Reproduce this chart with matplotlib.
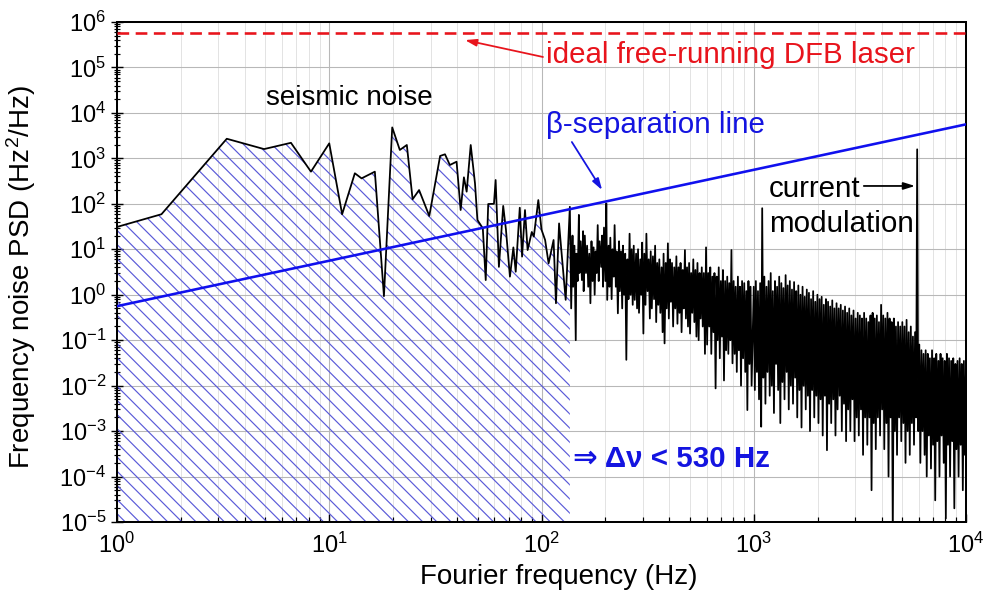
import numpy as np
import matplotlib.pyplot as plt
from matplotlib.ticker import LogLocator

# frequency noise PSD
freq = [
    1, 1.62, 3.29, 4.93, 6.6, 8.2, 10, 11.5, 13.2, 14.2,
    16.4, 18.1, 19.8, 21.5, 23.2, 24.7, 26.5, 29.6, 33.3, 35.1,
    37, 39.8, 41.6, 43.1, 44.4, 46.4, 48.6, 49.9, 52.9, 54.6,
    56.1, 59.7, 60.8, 63, 66, 68, 71, 73.7, 75.6, 79,
    81, 83.6, 86, 90, 92, 96.6, 100, 104, 108, 114,
    117, 121, 124, 130, 136,
    138, 140, 141, 143, 145, 146, 148, 150, 151, 153,
    155, 157, 158, 160, 162, 164, 166, 168, 170, 172,
    174, 176, 178, 180, 182, 184, 186, 188, 191, 193,
    195, 197, 200, 202, 204, 207, 209, 211, 214, 216,
    219, 221, 224, 226, 229, 232, 234, 237, 240, 242,
    245, 248, 251, 254, 257, 260, 263, 266, 269, 272,
    275, 279, 282, 285, 288, 292, 295, 298,
    302, 305, 309, 312, 316, 320, 324, 327, 331, 335,
    339, 343, 347, 351, 355, 359, 363, 368, 372, 376,
    380, 385, 389, 394, 398, 403, 407, 412, 417, 422,
    427, 432, 437, 442, 447, 452, 457, 463, 468, 474,
    479, 485, 490, 496, 501, 507, 513, 519, 525, 531,
    537, 543, 550, 556, 562, 569, 575, 582, 589, 596,
    603, 610, 617, 624, 631, 638, 646, 653, 661, 669,
    676, 684, 692, 700, 708, 716, 724, 733, 741, 750,
    759, 767, 776, 785, 794, 804, 813, 822, 832, 842,
    851, 861, 871, 881, 891, 902, 912, 923, 933, 944,
    955, 966, 977,
    1000, 1012, 1023, 1035, 1047, 1059, 1072, 1084, 1096, 1109,
    1122, 1135, 1148, 1161, 1175, 1189, 1202, 1216, 1230, 1245,
    1259, 1274, 1288, 1303, 1318, 1334, 1349, 1365, 1380, 1396,
    1413, 1429, 1445, 1462, 1479, 1496, 1514, 1531, 1549, 1567,
    1585, 1603, 1622, 1641, 1660, 1679, 1698, 1718, 1738, 1758,
    1778, 1799, 1820, 1841, 1862, 1884, 1905, 1928, 1950, 1972,
    1995, 2018, 2042, 2065, 2089, 2113, 2138, 2163, 2188, 2213,
    2239, 2265, 2291, 2317, 2344, 2371, 2399, 2427, 2455, 2483,
    2512, 2541, 2570, 2600, 2630, 2661, 2692, 2723, 2754, 2786,
    2818, 2851, 2884, 2917, 2951, 2985, 3020, 3055, 3090, 3126,
    3162, 3199, 3236, 3273, 3311, 3350, 3388, 3428, 3467, 3508,
    3548, 3589, 3631, 3673, 3715, 3758, 3802, 3846, 3890, 3936,
    3981, 4027, 4074, 4121, 4169, 4217, 4266, 4315, 4365, 4416,
    4467, 4519, 4571, 4624, 4677, 4732, 4786, 4842, 4898, 4955,
    5012, 5070, 5129, 5188, 5248, 5309, 5370, 5433, 5495, 5559,
    5623, 5689, 5754, 5821, 5888, 5957, 6026, 6095, 6166, 6237,
    6310, 6383, 6457, 6531, 6607, 6683, 6761, 6839, 6918, 6998,
    7079, 7161, 7244, 7328, 7413, 7499, 7586, 7674, 7762, 7852,
    7943, 8035, 8128, 8222, 8318, 8414, 8511, 8610, 8710, 8810,
    8913, 9016, 9120, 9226, 9333, 9441, 9550, 9661, 9772, 9886,
    10000,
]
psd = [
    31, 59, 2700, 1600, 2200, 510, 2140, 59, 470, 363,
    510, 0.93, 4800, 1530, 1970, 126, 201, 54, 1130, 1230,
    714, 845, 73, 383, 185, 1970, 283, 44, 29, 2.1,
    99, 100, 334, 4.1, 90, 27, 2.5, 11, 3.2, 82,
    6.9, 73, 9.6, 24, 19, 121, 27, 16, 4.9, 16,
    0.65, 37, 9.6, 0.77, 86,
    0.5, 20, 1.5, 12, 0.1, 8, 2, 57, 3, 15,
    2.1, 25, 1.2, 20, 3, 12, 1.5, 8, 0.65, 15,
    2, 11, 1, 9, 3, 34, 2, 15, 4.1, 20,
    1.5, 30, 2, 102, 0.77, 12, 1.5, 18, 0.8, 10,
    2.5, 34, 1.5, 9, 0.39, 15, 1.2, 9, 0.5, 12,
    1, 8, 0.037, 6, 0.8, 22, 1.0, 10, 0.6, 12,
    0.77, 8, 0.5, 10, 0.4, 6, 1, 14,
    0.14, 8, 0.6, 22, 1.2, 6, 0.3, 9, 0.5, 7,
    0.8, 12, 0.25, 5, 0.6, 6, 0.4, 4, 0.15, 8,
    0.085, 5, 0.5, 13.5, 0.3, 6, 0.7, 5, 0.2, 4,
    0.5, 7, 0.23, 4, 0.4, 5, 0.15, 3.5, 0.5, 9.6,
    0.3, 4, 0.2, 5, 0.14, 3, 0.4, 6, 0.25, 3.5,
    0.12, 5, 0.1, 3, 0.3, 4, 0.2, 3, 0.05, 11,
    0.08, 3, 0.2, 4, 0.05, 2.5, 0.15, 3, 0.0087, 2.5,
    0.1, 4, 0.04, 2, 0.12, 3.5, 0.013, 2, 0.06, 2.5,
    0.05, 1.8, 0.1, 9.6, 0.031, 2, 0.05, 1.5, 0.02, 2.5,
    0.06, 1.5, 0.01, 2, 0.04, 1.8, 0.02, 1.2, 0.0029, 2,
    0.03, 1.5, 0.01,
    1.5, 8e-3, 2, 2e-2, 1.2, 5e-3, 1.8, 1.25e-3, 80, 1.5e-2,
    2.5, 4e-3, 1.5, 2e-2, 2, 6e-3, 3, 1e-2, 1.2, 2.5e-3,
    2, 3e-2, 1.5, 8e-3, 2.5, 1.5e-3, 1.8, 1.2e-2, 1.4, 5e-3,
    2.7, 2e-2, 1.6, 3e-3, 2, 1e-2, 1.3, 4e-3, 1.9, 1.5e-2,
    1.2, 2e-3, 1.6, 8e-3, 1, 1.2e-3, 1.5, 1e-2, 0.9, 3e-3,
    1.3, 6e-3, 1.1, 1e-3, 0.8, 8e-3, 1.2, 2e-3, 0.7, 6e-3,
    1, 1.5e-3, 0.8, 5e-3, 0.9, 8e-4, 0.6, 6e-3, 0.8, 3.8e-4,
    0.7, 4e-3, 0.55, 1.5e-3, 0.75, 5e-3, 0.5, 8e-4, 0.65, 3e-3,
    0.5, 6e-3, 0.6, 1e-3, 0.45, 4e-3, 0.55, 6e-4, 0.4, 3e-3,
    0.5, 1e-3, 0.35, 5e-3, 0.45, 6e-4, 0.3, 2e-3, 0.4, 8e-4,
    0.35, 3e-3, 0.3, 3e-4, 0.4, 2e-3, 0.3, 5e-4, 0.25, 2e-3,
    0.35, 5e-5, 0.4, 1.5e-3, 0.3, 4e-4, 0.35, 2e-3, 0.25, 8e-4,
    0.6, 3e-3, 0.35, 4e-4, 0.3, 1.5e-3, 0.4, 1e-4, 0.3, 2e-3,
    0.25, 5e-6, 0.3, 1e-3, 0.2, 3e-4, 0.25, 2e-3, 0.2, 6e-4,
    0.25, 1.5e-3, 0.2, 2e-4, 0.28, 1e-3, 0.15, 3e-4, 0.2, 1.5e-3,
    0.12, 5e-4, 0.15, 2e-3, 1580, 1e-3, 0.08, 2e-4, 0.06, 1e-3,
    0.05, 3e-4, 0.06, 1e-4, 0.05, 8e-4, 0.04, 1.5e-4, 0.06, 5e-4,
    0.04, 3e-5, 0.05, 6e-4, 0.035, 1e-4, 0.05, 8e-4, 0.04, 2e-4,
    0.035, 1.2e-5, 0.05, 5e-4, 0.04, 1e-4, 0.035, 6e-4, 0.04, 2e-5,
    0.03, 4e-4, 0.035, 1e-4, 0.04, 5e-4, 0.03, 5e-5, 0.035, 3e-4,
    0.03,
]

beta_f = [1, 1e4]
beta_psd = [0.56, 5600]
dfb_level = 5.7e5
f_cut = 136  # hatched area ends here

DPI = 85
plt.rcParams['font.family'] = ['Liberation Sans', 'DejaVu Sans']
plt.rcParams['mathtext.default'] = 'regular'
plt.rcParams['hatch.linewidth'] = 1.0
plt.rcParams['hatch.color'] = '#5a5ad8'

fig = plt.figure(figsize=(987 / DPI, 606 / DPI), dpi=DPI)
ax = fig.add_axes([117 / 987, 1 - 522 / 606, 849 / 987, 500 / 606])

freq = np.array(freq)
psd = np.array(psd)
m = freq <= f_cut
ax.fill_between(freq[m], psd[m], 1e-5, facecolor='none', edgecolor='#5a5ad8',
                hatch='\\\\', linewidth=0, zorder=1)

ax.plot(freq, psd, color='black', lw=1.5, zorder=3)
ax.plot(beta_f, beta_psd, color='#1010ee', lw=2.2, zorder=4)
ax.axhline(dfb_level, color='#e8141c', lw=2.2, ls=(0, (4.5, 2.5)), zorder=4)

ax.set_xscale('log')
ax.set_yscale('log')
ax.set_xlim(1, 1e4)
ax.set_ylim(1e-5, 1e6)
ax.yaxis.set_major_locator(LogLocator(base=10, numticks=20))
ax.yaxis.set_minor_locator(LogLocator(base=10, subs=np.arange(2, 10), numticks=20))
ax.xaxis.set_minor_locator(LogLocator(base=10, subs=np.arange(2, 10), numticks=20))

ax.grid(True, which='major', color='#b8b8b8', lw=0.9)
ax.grid(True, which='minor', axis='x', color='#dedede', lw=0.7)
ax.set_axisbelow(True)

for s in ax.spines.values():
    s.set_linewidth(1.7)
ax.tick_params(axis='x', which='both', direction='in', labelsize=20, pad=9)
ax.tick_params(axis='x', which='major', length=7, width=1.2)
ax.tick_params(axis='x', which='minor', length=4, width=1)
ax.tick_params(axis='y', which='both', direction='inout', labelsize=20, pad=4)
ax.tick_params(axis='y', which='major', length=10, width=1.2)
ax.tick_params(axis='y', which='minor', length=5, width=1)

ax.set_xlabel('Fourier frequency (Hz)', fontsize=23.5)
ax.set_ylabel('Frequency noise PSD (Hz$^2$/Hz)', fontsize=23.5)
ax.xaxis.set_label_coords(0.52, -0.084)
ax.yaxis.set_label_coords(-0.093, 0.49)

red = '#e8141c'
blue = '#1414e0'
arrow = '-|>,head_length=0.8,head_width=0.25'
ax.text(12.45, 2.13e4, 'seismic noise', fontsize=23.5, ha='center', va='center')
ax.text(105, 1.25e5, 'ideal free-running DFB laser', fontsize=25, color=red,
        ha='left', va='baseline')
ax.annotate('', xy=(43.6, 4.0e5), xytext=(101.6, 1.7e5),
            arrowprops=dict(arrowstyle=arrow, color=red, lw=1.5, shrinkA=0, shrinkB=0))
ax.text(105, 3.6e3, 'β-separation line', fontsize=25, color=blue,
        ha='left', va='baseline')
ax.annotate('', xy=(193, 201), xytext=(139, 2290),
            arrowprops=dict(arrowstyle=arrow, color=blue, lw=1.5, shrinkA=0, shrinkB=0))
ax.text(1180, 141, 'current', fontsize=25, ha='left', va='baseline')
ax.text(1180, 24, 'modulation', fontsize=25, ha='left', va='baseline')
ax.annotate('', xy=(5754, 247), xytext=(3300, 247),
            arrowprops=dict(arrowstyle=arrow, color='black', lw=1.5, shrinkA=0, shrinkB=0))
ax.text(141, 1.62e-4, '⇒ Δν < 530 Hz', fontsize=25, color=blue,
        fontweight='bold', ha='left', va='baseline')

fig.savefig('out.png', dpi=DPI)
